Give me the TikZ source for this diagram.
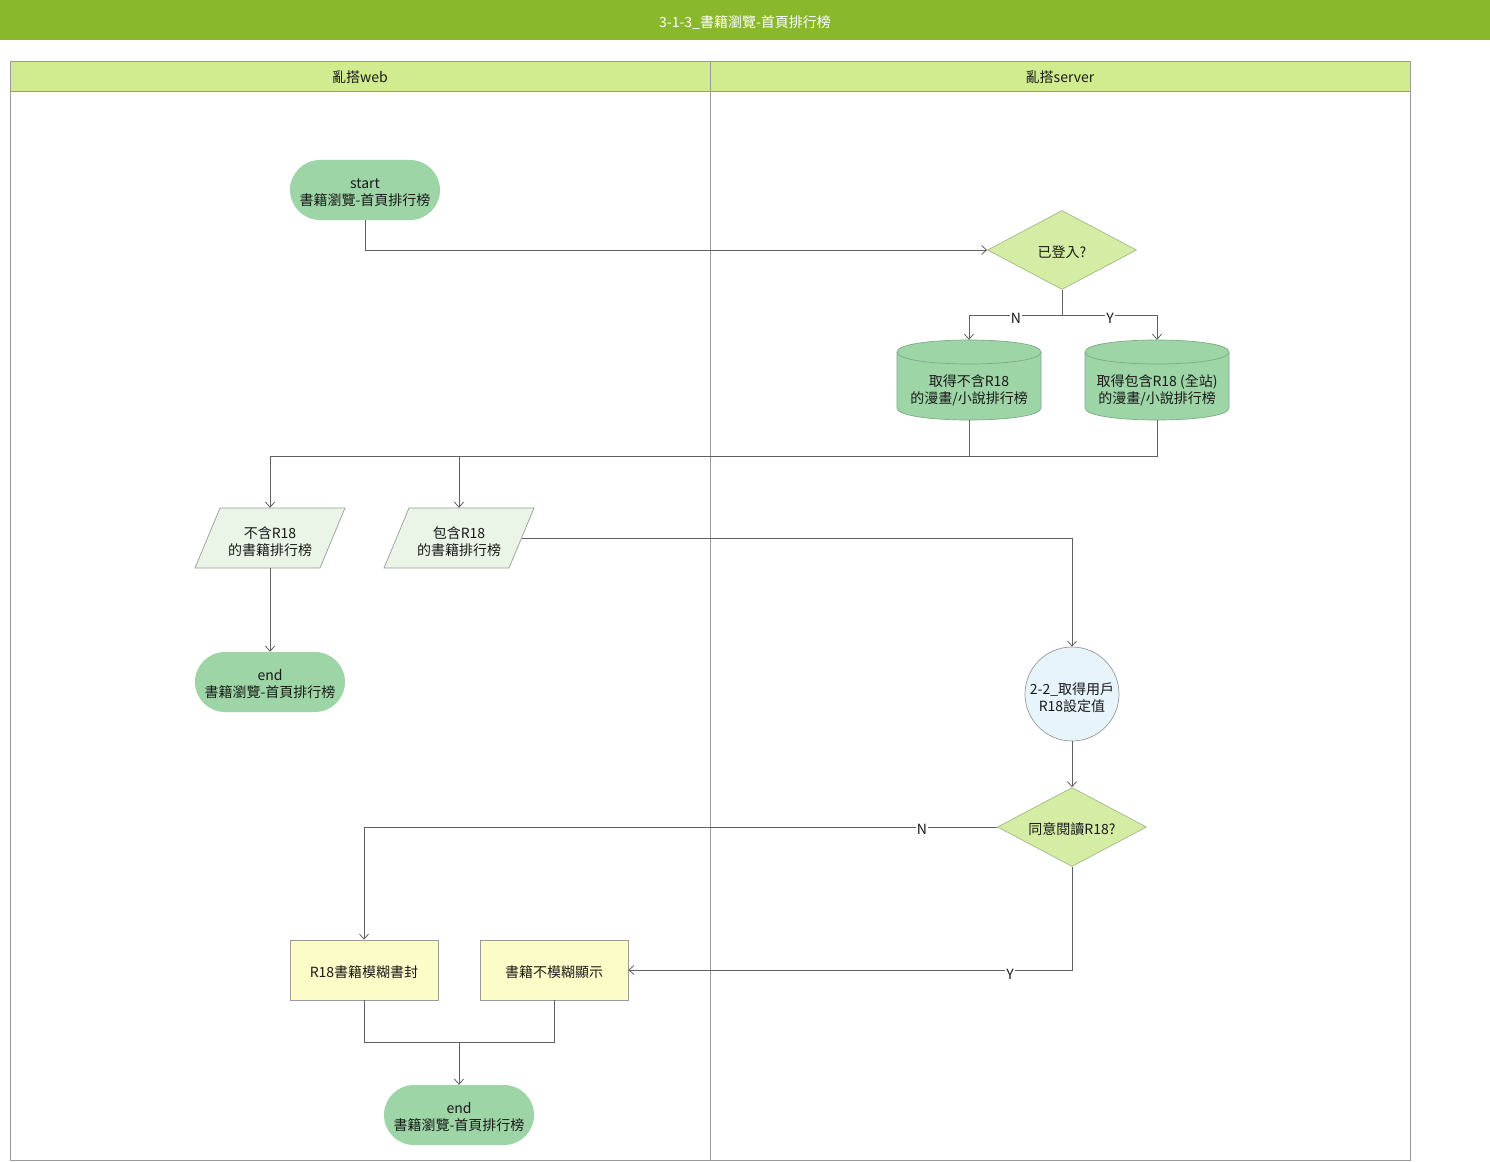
\documentclass[tikz,border=0pt]{standalone}
\usepackage{fontspec}
\setmainfont{Noto Sans CJK TC}
\usetikzlibrary{arrows.meta,shapes.geometric}
\definecolor{titlebar}{HTML}{8AB82C}
\definecolor{lanehead}{HTML}{D1EB8F}
\definecolor{termfill}{HTML}{9DD5A6}
\definecolor{decfill}{HTML}{D5ECA4}
\definecolor{decline}{HTML}{A3B98A}
\definecolor{cylline}{HTML}{7FA98A}
\definecolor{parafill}{HTML}{EAF5E7}
\definecolor{circfill}{HTML}{E8F4FC}
\definecolor{procfill}{HTML}{FCFCC8}
\definecolor{edge}{HTML}{606060}
\definecolor{laneline}{HTML}{9A9A9A}
\newcommand\lowA{\rule{0pt}{16pt}}
\newcommand\lowB{\rule{0pt}{19pt}}
\begin{document}
\begin{tikzpicture}[x=1pt,y=-1pt,
  txt/.style={font=\fontsize{14pt}{17pt}\selectfont, align=center, text=black!90, inner sep=0pt,
              execute at begin node={\rule{0pt}{17pt}}},
  term/.style={txt, rectangle, rounded corners=30pt, fill=termfill, minimum width=150pt, minimum height=60pt},
  decision/.style={txt, diamond, fill=decfill, draw=decline, line width=0.7pt, minimum width=149pt, minimum height=79pt, aspect=1.9},
  holder/.style={txt, rectangle, minimum width=#1, minimum height=60pt},
  circnode/.style={txt, circle, fill=circfill, draw=laneline, line width=0.7pt, minimum size=94pt},
  proc/.style={txt, rectangle, fill=procfill, draw=laneline, line width=0.7pt, minimum width=148pt, minimum height=60pt},
  flow/.style={draw=edge, line width=0.8pt, -{Straight Barb[length=5pt,width=9pt,line width=0.8pt]}},
  plain/.style={draw=edge, line width=0.8pt},
  lbl/.style={txt, fill=white, inner sep=1pt},
  cylshape/.style={fill=termfill, draw=cylline, line width=0.7pt},
  parashape/.style={fill=parafill, draw=laneline, line width=0.7pt}
]
\useasboundingbox (0,0) rectangle (1490,1161);
\fill[white] (0,0) rectangle (1490,1161);
% title bar
\fill[titlebar] (0,0) rectangle (1490,40);
\node[txt, text=white] (title) at (745,20) {3-1-3\_書籍瀏覽-首頁排行榜};
% lanes
\fill[lanehead] (10,61) rectangle (1410,91);
\draw[laneline, line width=0.7pt] (10,61) rectangle (1410,1160);
\draw[laneline, line width=0.7pt] (10,91) -- (1410,91);
\draw[laneline, line width=0.7pt] (710,61) -- (710,1160);
\node[txt] (laneA) at (360,75) {亂搭web};
\node[txt] (laneB) at (1060,75) {亂搭server};

% shapes drawn directly (cylinders, parallelograms)
\path[cylshape] (897,352) -- (897,408) .. controls (897,424) and (1041,424) .. (1041,408) -- (1041,352) .. controls (1041,336) and (897,336) .. cycle;
\draw[cylline, line width=0.7pt] (897,352) .. controls (897,368) and (1041,368) .. (1041,352);
\path[cylshape] (1085,352) -- (1085,408) .. controls (1085,424) and (1229,424) .. (1229,408) -- (1229,352) .. controls (1229,336) and (1085,336) .. cycle;
\draw[cylline, line width=0.7pt] (1085,352) .. controls (1085,368) and (1229,368) .. (1229,352);
\path[parashape] (220,508) -- (345,508) -- (320,568) -- (195,568) -- cycle;
\path[parashape] (409,508) -- (534,508) -- (509,568) -- (384,568) -- cycle;

% nodes
\node[term] (start) at (365,190) {\lowA start\\書籍瀏覽-首頁排行榜};
\node[decision] (d1) at (1062,250) {已登入?};
\node[txt, minimum width=144pt, minimum height=80pt] (c1) at (969,387) {\lowB 取得不含R18\\的漫畫/小說排行榜};
\node[txt, minimum width=144pt, minimum height=80pt] (c2) at (1157,387) {\lowB 取得包含R18 (全站)\\的漫畫/小說排行榜};
\node[holder=125pt] (p1) at (270,538) {\lowB 不含R18\\的書籍排行榜};
\node[holder=125pt] (p2) at (459,538) {\lowB 包含R18\\的書籍排行榜};
\node[term] (e1) at (270,682) {\lowA end\\書籍瀏覽-首頁排行榜};
\node[circnode] (circ) at (1072,694) {\lowB 2-2\_取得用戶\\R18設定值};
\node[decision] (d2) at (1072,827) {同意閱讀R18?};
\node[proc] (r1) at (364,970) {R18書籍模糊書封};
\node[proc] (r2) at (554,970) {書籍不模糊顯示};
\node[term] (e2) at (459,1115) {\lowA end\\書籍瀏覽-首頁排行榜};

% connectors
\draw[flow] (start.south) |- (d1.west);
\coordinate (split) at (1062,315);
\draw[plain] (d1.south) -- (split);
\draw[flow] (split) -| ([yshift=7pt]c1.north);
\draw[flow] (split) -| ([yshift=7pt]c2.north);
\node[lbl] (lN1) at (1016,315) {N};
\node[lbl] (lY1) at (1110,315) {Y};

\coordinate (join) at (969,456);
\draw[plain] ([yshift=7pt]c1.south) -- (join);
\draw[plain] ([yshift=7pt]c2.south) |- (join);
\draw[flow] (join) -| (p1.north);
\draw[flow] (p2.north |- join) -- (p2.north);

\draw[flow] (p1.south) -- (e1.north);
\draw[flow] (p2.east) -| (circ.north);
\draw[flow] (circ.south) -- (d2.north);

\draw[flow] (d2.west) -| (r1.north);
\node[lbl] (lN2) at (922,826) {N};
\draw[flow] (d2.south) |- (r2.east);
\node[lbl] (lY2) at (1010,971) {Y};

\coordinate (merge) at (459,1042);
\draw[plain] (r1.south) |- (r2.south |- merge) -- (r2.south);
\draw[flow] (merge) -- (e2.north);
\end{tikzpicture}
\end{document}
